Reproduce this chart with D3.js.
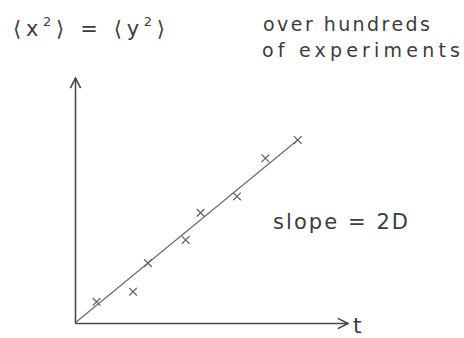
<!DOCTYPE html>
<html>
<head>
<meta charset="utf-8">
<script src="https://cdn.jsdelivr.net/npm/d3@7"></script>
<style>
  body { margin: 0; background: #fff; }
  svg text { font-family: 'DejaVu Sans', sans-serif; fill: #3c3c3c; }
</style>
</head>
<body>
<div id="chart"></div>
<script>
// measured points: time t vs mean squared displacement
const times = [0.8, 2.15, 2.7, 4.1, 4.65, 6.0, 7.05];
const msd = [0.78, 1.15, 2.2, 3.05, 4.05, 4.65, 6.05];
// fitted line through origin
const fitSlope = 0.815;
const fitEnd = 8.25;

const width = 464, height = 338;
const ink = '#4a4a4a';

const svg = d3.select('#chart').append('svg')
    .attr('width', width).attr('height', height);

const x = d3.scaleLinear().domain([0, 10]).range([75, 345]);
const y = d3.scaleLinear().domain([0, 9]).range([323, 78]);

svg.append('defs').append('marker')
    .attr('id', 'arrow')
    .attr('viewBox', '0 0 10 10')
    .attr('refX', 9).attr('refY', 5)
    .attr('markerWidth', 8).attr('markerHeight', 8)
    .attr('orient', 'auto')
    .append('path')
    .attr('d', 'M1,1 L9,5 L1,9')
    .attr('fill', 'none')
    .attr('stroke', ink)
    .attr('stroke-width', 1.3);

// axes, no ticks - just arrows
const xAxis = svg.append('g')
    .attr('transform', `translate(0,${y(0)})`)
    .call(d3.axisBottom(x).tickValues([]).tickSizeOuter(0));
const yAxis = svg.append('g')
    .attr('transform', `translate(${x(0)},0)`)
    .call(d3.axisLeft(y).tickValues([]).tickSizeOuter(0));

[xAxis, yAxis].forEach((g) => {
    g.select('.domain')
        .attr('stroke', ink)
        .attr('stroke-width', 1.6)
        .attr('marker-end', 'url(#arrow)');
});
// make the domain paths run toward the arrow ends
xAxis.select('.domain').attr('d', `M${x(0)},0.5H${x(10) + 3}`);
yAxis.select('.domain').attr('d', `M0.5,${y(0)}V${y(9)}`);

// fitted line
const line = d3.line().x((d) => x(d[0])).y((d) => y(d[1]));
svg.append('path')
    .datum([[0, 0], [fitEnd, fitSlope * fitEnd]])
    .attr('d', line)
    .attr('fill', 'none')
    .attr('stroke', '#6a6a6a')
    .attr('stroke-width', 1.2);

// crosses
const cross = d3.symbol().type(d3.symbolX).size(40);
svg.selectAll('.pt')
    .data(times.map((t, i) => [t, msd[i]]))
    .enter().append('path')
    .attr('class', 'pt')
    .attr('transform', (d) => `translate(${x(d[0])},${y(d[1])})`)
    .attr('d', cross)
    .attr('fill', 'none')
    .attr('stroke', '#666')
    .attr('stroke-width', 1.3);
svg.append('path')
    .attr('transform', `translate(${x(fitEnd)},${y(fitSlope * fitEnd)})`)
    .attr('d', cross)
    .attr('fill', 'none')
    .attr('stroke', '#666')
    .attr('stroke-width', 1.3);

// labels
const yLabel = svg.append('text')
    .attr('x', 13).attr('y', 36)
    .attr('font-size', 21)
    .attr('textLength', 152).attr('lengthAdjust', 'spacing');
yLabel.append('tspan').text('⟨x');
yLabel.append('tspan').attr('dy', -10).attr('font-size', 13).text('2');
yLabel.append('tspan').attr('dy', 10).text('⟩ = ⟨y');
yLabel.append('tspan').attr('dy', -10).attr('font-size', 13).text('2');
yLabel.append('tspan').attr('dy', 10).text('⟩');

svg.append('text')
    .attr('x', 263).attr('y', 31)
    .attr('font-size', 19)
    .attr('textLength', 167).attr('lengthAdjust', 'spacing')
    .text('over hundreds');
svg.append('text')
    .attr('x', 262).attr('y', 57)
    .attr('font-size', 19)
    .attr('textLength', 198).attr('lengthAdjust', 'spacing')
    .text('of experiments');

svg.append('text')
    .attr('x', 273).attr('y', 229)
    .attr('font-size', 21)
    .attr('textLength', 135).attr('lengthAdjust', 'spacing')
    .text('slope = 2D');

svg.append('text')
    .attr('x', x(10) + 8).attr('y', y(0) + 10)
    .attr('font-size', 22)
    .text('t');
</script>
</body>
</html>
